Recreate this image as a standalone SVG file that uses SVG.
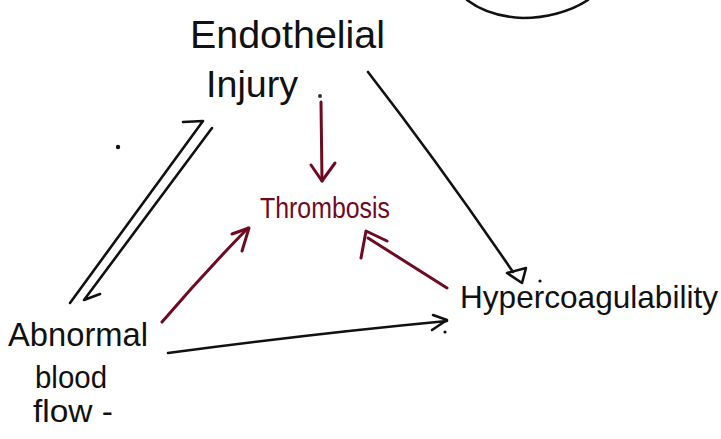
<svg xmlns="http://www.w3.org/2000/svg" width="721" height="439" viewBox="0 0 721 439">
<style>
.t{font-family:"Liberation Sans","DejaVu Sans",sans-serif;fill:#111}
.r{font-family:"Liberation Sans","DejaVu Sans",sans-serif;fill:#6e0b22}
.k{fill:none;stroke:#111;stroke-width:2.6;stroke-linecap:round;stroke-linejoin:round}
.rd{fill:none;stroke:#6e0b22;stroke-width:3;stroke-linecap:round;stroke-linejoin:round}
</style>
<rect width="721" height="439" fill="#ffffff"/>
<path class="k" d="M467,0 C480,10 500,17 523,18 C545,18 570,12 588,0"/>
<g id="endothelial-injury">
<text class="t" x="190" y="48" font-size="38" textLength="195" lengthAdjust="spacingAndGlyphs">Endothelial</text>
<text class="t" x="206" y="97" font-size="36" textLength="92" lengthAdjust="spacingAndGlyphs">Injury</text>
</g>
<g id="thrombosis">
<text class="r" x="260" y="218" font-size="30" textLength="130" lengthAdjust="spacingAndGlyphs">Thrombosis</text>
</g>
<g id="abnormal-blood-flow">
<text class="t" x="8" y="346" font-size="34" textLength="140" lengthAdjust="spacingAndGlyphs">Abnormal</text>
<text class="t" x="35" y="388" font-size="32" textLength="72" lengthAdjust="spacingAndGlyphs">blood</text>
<text class="t" x="33" y="422" font-size="32" textLength="80" lengthAdjust="spacingAndGlyphs">flow -</text>
</g>
<g id="hypercoagulability">
<text class="t" x="460" y="308" font-size="32" textLength="258" lengthAdjust="spacingAndGlyphs">Hypercoagulability</text>
</g>
<g id="connectors">
<circle cx="320" cy="96" r="2" fill="#333"/>
<path class="rd" d="M321,102 L322,181"/>
<path class="rd" d="M311,165 L322,181 L335,163"/>
<path class="rd" d="M162,322 Q205,272 248,228"/>
<path class="rd" d="M232,234 L249,228 L242,251"/>
<path class="rd" d="M447,288 L368,238"/>
<path class="rd" d="M387,241 L366,231 L361,258"/>
<path class="k" d="M368,72 Q440,165 513,272"/>
<path class="k" d="M507,273 L526,268 L522,283 Z"/>
<path class="k" d="M168,353 Q310,334 447,321"/>
<path class="k" d="M433,315 L447,320 L432,330"/>
<path class="k" d="M183,122 L203,121 L70,303"/>
<path class="k" d="M212,128 L84,300 L100,294"/>
<circle cx="118" cy="147" r="2.2" fill="#111"/>
<circle cx="540" cy="281" r="1.6" fill="#111"/>
<circle cx="445" cy="332" r="1.6" fill="#111"/>
</g>
</svg>
